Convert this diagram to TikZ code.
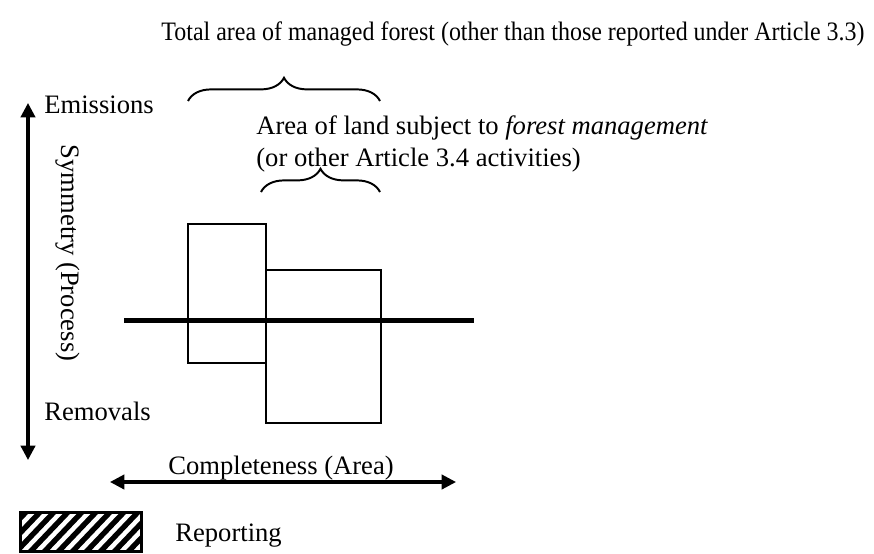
\documentclass[tikz,border=0pt]{standalone}
\usepackage{fontspec}
\setmainfont{Liberation Serif}
\usetikzlibrary{arrows.meta,decorations.pathreplacing}
\begin{document}
\begin{tikzpicture}[x=0.56pt,y=-0.56pt,
  lbl/.style={inner sep=0pt,font=\fontsize{14.9}{17}\selectfont},
  axis/.style={line width=1.7pt,{Triangle[width=8pt,length=8pt]}-{Triangle[width=8pt,length=8pt]}},
  bar/.style={draw,line width=1.1pt},
  brc/.style={draw,line width=1.1pt,decorate,decoration={brace,amplitude=#1}}]
\useasboundingbox (0,0) rectangle (874,554);
% titles
\node[lbl,anchor=base,xscale=0.9] (title) at (513,41) {Total area of managed forest (other than those reported under Article 3.3)};
\node[lbl,anchor=base west] (area1) at (256,134) {Area of land subject to \textit{forest management}};
\node[lbl,anchor=base west] (area2) at (256,166) {(or other Article 3.4 activities)};
% braces
\coordinate (b1l) at (188,101);
\coordinate (b1r) at (380,101);
\coordinate (b2l) at (261,192);
\coordinate (b2r) at (380,192);
\draw[brc=13pt] (b1l) -- (b1r);
\draw[brc=13pt] (b2l) -- (b2r);
% vertical axis
\coordinate (vtop) at (28,103);
\coordinate (vbot) at (28,460);
\draw[axis] (vbot) -- (vtop);
\node[lbl,anchor=base west] (em) at (44,113) {Emissions};
\node[lbl,anchor=base west] (rem) at (44,420) {Removals};
\node[lbl,rotate=-90] (sym) at (68,253) {Symmetry (Process)};
% bars
\node[bar,minimum width=78*0.56pt,minimum height=139*0.56pt,anchor=north west,inner sep=0pt] (r1) at (187,223) {};
\node[bar,minimum width=115*0.56pt,minimum height=153*0.56pt,anchor=north west,inner sep=0pt] (r2) at (265,269) {};
% zero line
\coordinate (zl) at (124,320);
\coordinate (zr) at (474,320);
\draw[line width=2.8pt] (zl) -- (zr);
% horizontal axis
\coordinate (hl) at (110,482);
\coordinate (hr) at (456,482);
\draw[axis] (hl) -- (hr);
\node[lbl,anchor=base] (comp) at (281,474) {Completeness (Area)};
% legend
\node[draw,line width=1.1pt,minimum width=120*0.56pt,minimum height=38*0.56pt,anchor=north west,inner sep=0pt] (leg) at (20,512) {};
\begin{scope}
\clip (leg.south west) rectangle (leg.north east);
\foreach \i in {-40,-26,...,160} {
  \draw[line width=3pt] (\i,552) -- (\i+40,510);
}
\end{scope}
\draw[line width=1.1pt] (leg.south west) rectangle (leg.north east);
\node[lbl,anchor=base west] (rep) at (175,541) {Reporting};
\end{tikzpicture}
\end{document}
